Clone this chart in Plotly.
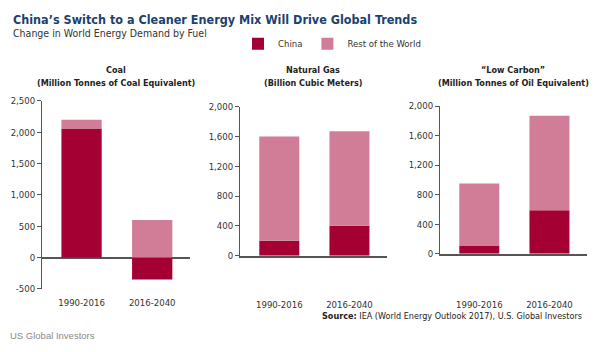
import plotly.graph_objects as go
from plotly.subplots import make_subplots

periods = ["1990-2016", "2016-2040"]
coal_china = [2060, -350]
coal_row = [140, 600]
gas_china = [200, 400]
gas_row = [1400, 1270]
lc_china = [110, 590]
lc_row = [840, 1280]

coal_ticks = [-500, 0, 500, 1000, 1500, 2000, 2500]
coal_tick_text = ["-500", "0", "500", "1,000", "1,500", "2,000", "2,500"]
other_ticks = [0, 400, 800, 1200, 1600, 2000]
other_tick_text = ["0", "400", "800", "1,200", "1,600", "2,000"]

CHINA = "#A50034"
ROW = "#D27D98"
NARROW = "DejaVu Sans Condensed, Liberation Sans Narrow, sans-serif"
W, H = 600, 352

fig = make_subplots(rows=1, cols=3)

panels = [
    (coal_china, coal_row, 1),
    (gas_china, gas_row, 2),
    (lc_china, lc_row, 3),
]
for china, row, col in panels:
    fig.add_trace(go.Bar(x=periods, y=china, name="China", marker_color=CHINA,
                         marker_line_width=0, showlegend=(col == 1),
                         legendgroup="c", hoverinfo="skip"), row=1, col=col)
    fig.add_trace(go.Bar(x=periods, y=row, name="Rest of the World", marker_color=ROW,
                         marker_line_width=0, showlegend=(col == 1),
                         legendgroup="r", hoverinfo="skip"), row=1, col=col)

def px_x(a, b):
    return [a / W, b / W]

def px_y(top, bottom):
    return [1 - bottom / H, 1 - top / H]

xdomains = [px_x(42, 190), px_x(240, 387), px_x(440, 587)]
ydomains = [px_y(98, 292), px_y(104, 257.7), px_y(103.3, 255.7)]
standoffs = [7, 39, 41]

axis_font = dict(family=NARROW, size=9.5, color="#333333")
for i in range(3):
    xa = "xaxis" if i == 0 else f"xaxis{i+1}"
    ya = "yaxis" if i == 0 else f"yaxis{i+1}"
    fig.layout[xa].update(domain=xdomains[i], range=[-0.56, 1.535], showgrid=False,
                          zeroline=False, showline=(i != 0), linecolor="#555555",
                          linewidth=1.5, ticks="", tickfont=axis_font,
                          ticklabelstandoff=standoffs[i], fixedrange=True)
    if i == 0:
        rng, tv, tt = [-500, 2500], coal_ticks, coal_tick_text
    else:
        rng, tv, tt = [0, 2000], other_ticks, other_tick_text
    fig.layout[ya].update(domain=ydomains[i], range=rng, tickvals=tv, ticktext=tt,
                          showgrid=False, zeroline=(i == 0), zerolinecolor="#555555",
                          zerolinewidth=1.5, showline=True, linecolor="#555555",
                          linewidth=1, ticks="outside", ticklen=4, tickcolor="#555555",
                          tickfont=axis_font, fixedrange=True)

anns = [
    dict(text="<b>China’s Switch to a Cleaner Energy Mix Will Drive Global Trends</b>",
         x=11 / W, y=1 - 14 / H, xanchor="left", yanchor="middle",
         font=dict(family=NARROW, size=12.5, color="#1B416E")),
    dict(text="Change in World Energy Demand by Fuel",
         x=11 / W, y=1 - 27.5 / H, xanchor="left", yanchor="middle",
         font=dict(family=NARROW, size=10.5, color="#333333")),
    dict(text="<b>Source:</b> IEA (World Energy Outlook 2017), U.S. Global Investors",
         x=584 / W, y=1 - 320 / H, xanchor="right", yanchor="middle",
         font=dict(family=NARROW, size=9, color="#222222")),
    dict(text="US Global Investors",
         x=8 / W, y=1 - 340 / H, xanchor="left", yanchor="middle",
         font=dict(family="Liberation Sans, Arial, sans-serif", size=9.5, color="#8a8a8a")),
]
panel_titles = [("Coal", "(Million Tonnes of Coal Equivalent)", 116),
                ("Natural Gas", "(Billion Cubic Meters)", 313),
                ("“Low Carbon”", "(Million Tonnes of Oil Equivalent)", 513)]
for t, s, cx in panel_titles:
    anns.append(dict(text=f"<b>{t}</b>", x=cx / W, y=1 - 66 / H,
                     xanchor="center", yanchor="middle",
                     font=dict(family=NARROW, size=9, color="#222222")))
    anns.append(dict(text=f"<b>{s}</b>", x=cx / W, y=1 - 79.5 / H,
                     xanchor="center", yanchor="middle",
                     font=dict(family=NARROW, size=9, color="#222222")))
for a in anns:
    a.update(xref="paper", yref="paper", showarrow=False)

fig.update_layout(
    width=W, height=H, margin=dict(l=0, r=0, t=0, b=0),
    paper_bgcolor="white", plot_bgcolor="white",
    barmode="relative", bargap=0.43,
    annotations=anns,
    legend=dict(orientation="h", x=238 / W, y=1 - 24 / H, xanchor="left", yanchor="top",
                font=dict(family=NARROW, size=9.5, color="#333333"),
                itemwidth=30, tracegroupgap=0, bgcolor="rgba(0,0,0,0)"),
)

fig.write_html("out.html")
